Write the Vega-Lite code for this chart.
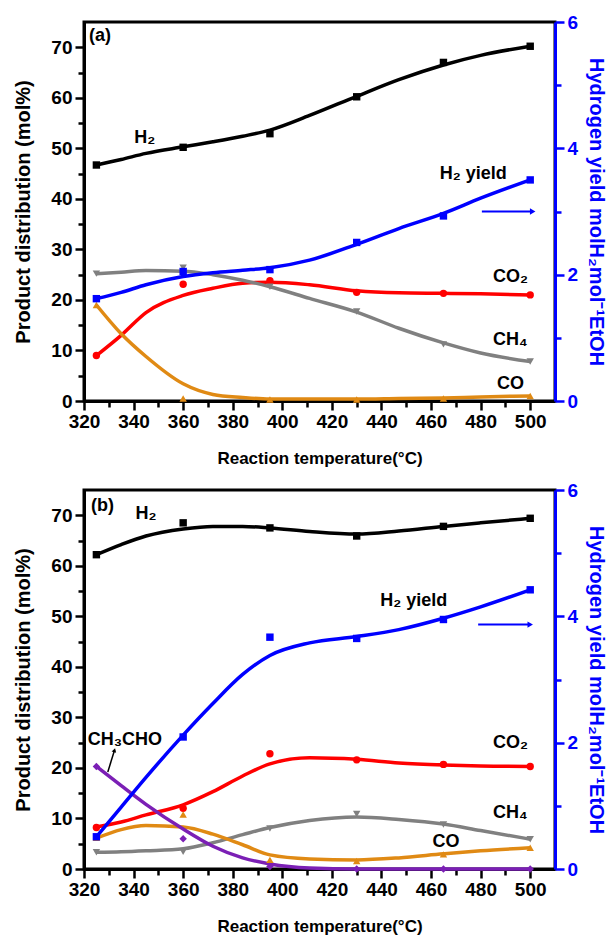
{
"$schema":"https://vega.github.io/schema/vega-lite/v6.json",
"autosize":{"type":"pad"},
"padding":{"left":12,"top":11,"right":3,"bottom":3},
"bounds":"flush",
"spacing":89,
"datasets":{
"pts":[
{"p":"a","s":"H2","T":325,"v":46.7},{"p":"a","s":"H2","T":360,"v":50.2},{"p":"a","s":"H2","T":395,"v":52.9},{"p":"a","s":"H2","T":430,"v":60.2},{"p":"a","s":"H2","T":465,"v":67.0},{"p":"a","s":"H2","T":500,"v":70.2},
{"p":"a","s":"CO2","T":325,"v":9.0},{"p":"a","s":"CO2","T":360,"v":23.1},{"p":"a","s":"CO2","T":395,"v":23.8},{"p":"a","s":"CO2","T":430,"v":21.5},{"p":"a","s":"CO2","T":465,"v":21.3},{"p":"a","s":"CO2","T":500,"v":21.0},
{"p":"a","s":"CH4","T":325,"v":25.2},{"p":"a","s":"CH4","T":360,"v":26.4},{"p":"a","s":"CH4","T":395,"v":22.6},{"p":"a","s":"CH4","T":430,"v":17.7},{"p":"a","s":"CH4","T":465,"v":11.2},{"p":"a","s":"CH4","T":500,"v":7.8},
{"p":"a","s":"CO","T":325,"v":19.0},{"p":"a","s":"CO","T":360,"v":0.5},{"p":"a","s":"CO","T":395,"v":0.3},{"p":"a","s":"CO","T":430,"v":0.3},{"p":"a","s":"CO","T":465,"v":0.5},{"p":"a","s":"CO","T":500,"v":1.0},
{"p":"b","s":"H2","T":325,"v":62.2},{"p":"b","s":"H2","T":360,"v":68.5},{"p":"b","s":"H2","T":395,"v":67.5},{"p":"b","s":"H2","T":430,"v":65.9},{"p":"b","s":"H2","T":465,"v":67.8},{"p":"b","s":"H2","T":500,"v":69.4},
{"p":"b","s":"CO2","T":325,"v":8.2},{"p":"b","s":"CO2","T":360,"v":12.0},{"p":"b","s":"CO2","T":395,"v":22.8},{"p":"b","s":"CO2","T":430,"v":21.6},{"p":"b","s":"CO2","T":465,"v":20.7},{"p":"b","s":"CO2","T":500,"v":20.3},
{"p":"b","s":"CH4","T":325,"v":3.3},{"p":"b","s":"CH4","T":360,"v":3.4},{"p":"b","s":"CH4","T":395,"v":8.0},{"p":"b","s":"CH4","T":430,"v":10.9},{"p":"b","s":"CH4","T":465,"v":8.8},{"p":"b","s":"CH4","T":500,"v":5.9},
{"p":"b","s":"CO","T":325,"v":6.2},{"p":"b","s":"CO","T":360,"v":10.8},{"p":"b","s":"CO","T":395,"v":1.8},{"p":"b","s":"CO","T":430,"v":1.6},{"p":"b","s":"CO","T":465,"v":2.9},{"p":"b","s":"CO","T":500,"v":4.2},
{"p":"b","s":"CH3CHO","T":325,"v":20.3},{"p":"b","s":"CH3CHO","T":360,"v":6.0},{"p":"b","s":"CH3CHO","T":395,"v":0.5},{"p":"b","s":"CH3CHO","T":430,"v":0.0},{"p":"b","s":"CH3CHO","T":465,"v":0.0},{"p":"b","s":"CH3CHO","T":500,"v":0.0}
],
"ypts":[
{"p":"a","T":325,"v":1.62},{"p":"a","T":360,"v":2.05},{"p":"a","T":395,"v":2.08},{"p":"a","T":430,"v":2.51},{"p":"a","T":465,"v":2.93},{"p":"a","T":500,"v":3.50},
{"p":"b","T":325,"v":0.51},{"p":"b","T":360,"v":2.09},{"p":"b","T":395,"v":3.67},{"p":"b","T":430,"v":3.65},{"p":"b","T":465,"v":3.95},{"p":"b","T":500,"v":4.42}
],
"crv":[
{"p":"a","s":"H2","T":325,"v":46.7},{"p":"a","s":"H2","T":335,"v":47.8},{"p":"a","s":"H2","T":345,"v":49.0},{"p":"a","s":"H2","T":360,"v":50.3},{"p":"a","s":"H2","T":372,"v":51.3},{"p":"a","s":"H2","T":384,"v":52.4},{"p":"a","s":"H2","T":395,"v":53.6},{"p":"a","s":"H2","T":411,"v":56.5},{"p":"a","s":"H2","T":430,"v":60.3},{"p":"a","s":"H2","T":447,"v":63.6},{"p":"a","s":"H2","T":465,"v":66.5},{"p":"a","s":"H2","T":480,"v":68.4},{"p":"a","s":"H2","T":500,"v":70.2},
{"p":"a","s":"CO2","T":325,"v":9.0},{"p":"a","s":"CO2","T":335,"v":13.0},{"p":"a","s":"CO2","T":345,"v":17.5},{"p":"a","s":"CO2","T":360,"v":20.9},{"p":"a","s":"CO2","T":372,"v":22.3},{"p":"a","s":"CO2","T":384,"v":23.3},{"p":"a","s":"CO2","T":395,"v":23.5},{"p":"a","s":"CO2","T":411,"v":23.0},{"p":"a","s":"CO2","T":430,"v":21.8},{"p":"a","s":"CO2","T":447,"v":21.4},{"p":"a","s":"CO2","T":465,"v":21.3},{"p":"a","s":"CO2","T":480,"v":21.2},{"p":"a","s":"CO2","T":500,"v":21.0},
{"p":"a","s":"CH4","T":325,"v":25.2},{"p":"a","s":"CH4","T":335,"v":25.5},{"p":"a","s":"CH4","T":345,"v":25.8},{"p":"a","s":"CH4","T":360,"v":25.7},{"p":"a","s":"CH4","T":372,"v":25.0},{"p":"a","s":"CH4","T":384,"v":23.9},{"p":"a","s":"CH4","T":395,"v":22.6},{"p":"a","s":"CH4","T":411,"v":20.3},{"p":"a","s":"CH4","T":430,"v":17.6},{"p":"a","s":"CH4","T":447,"v":14.4},{"p":"a","s":"CH4","T":465,"v":11.5},{"p":"a","s":"CH4","T":480,"v":9.5},{"p":"a","s":"CH4","T":500,"v":7.8},
{"p":"a","s":"CO","T":325,"v":19.0},{"p":"a","s":"CO","T":335,"v":13.3},{"p":"a","s":"CO","T":345,"v":8.8},{"p":"a","s":"CO","T":360,"v":3.4},{"p":"a","s":"CO","T":372,"v":1.3},{"p":"a","s":"CO","T":384,"v":0.7},{"p":"a","s":"CO","T":395,"v":0.4},{"p":"a","s":"CO","T":411,"v":0.4},{"p":"a","s":"CO","T":430,"v":0.4},{"p":"a","s":"CO","T":447,"v":0.5},{"p":"a","s":"CO","T":465,"v":0.6},{"p":"a","s":"CO","T":480,"v":0.8},{"p":"a","s":"CO","T":500,"v":1.0},
{"p":"b","s":"H2","T":325,"v":62.2},{"p":"b","s":"H2","T":335,"v":64.2},{"p":"b","s":"H2","T":345,"v":65.9},{"p":"b","s":"H2","T":360,"v":67.3},{"p":"b","s":"H2","T":372,"v":67.8},{"p":"b","s":"H2","T":384,"v":67.8},{"p":"b","s":"H2","T":395,"v":67.5},{"p":"b","s":"H2","T":411,"v":66.8},{"p":"b","s":"H2","T":430,"v":66.3},{"p":"b","s":"H2","T":447,"v":66.9},{"p":"b","s":"H2","T":465,"v":67.8},{"p":"b","s":"H2","T":480,"v":68.5},{"p":"b","s":"H2","T":500,"v":69.4},
{"p":"b","s":"CO2","T":325,"v":8.3},{"p":"b","s":"CO2","T":335,"v":9.3},{"p":"b","s":"CO2","T":345,"v":10.7},{"p":"b","s":"CO2","T":360,"v":12.7},{"p":"b","s":"CO2","T":372,"v":15.3},{"p":"b","s":"CO2","T":384,"v":18.4},{"p":"b","s":"CO2","T":395,"v":20.8},{"p":"b","s":"CO2","T":411,"v":22.0},{"p":"b","s":"CO2","T":430,"v":21.7},{"p":"b","s":"CO2","T":447,"v":21.0},{"p":"b","s":"CO2","T":465,"v":20.6},{"p":"b","s":"CO2","T":480,"v":20.4},{"p":"b","s":"CO2","T":500,"v":20.3},
{"p":"b","s":"CH4","T":325,"v":3.3},{"p":"b","s":"CH4","T":335,"v":3.4},{"p":"b","s":"CH4","T":345,"v":3.6},{"p":"b","s":"CH4","T":360,"v":4.0},{"p":"b","s":"CH4","T":372,"v":5.2},{"p":"b","s":"CH4","T":384,"v":6.8},{"p":"b","s":"CH4","T":395,"v":8.2},{"p":"b","s":"CH4","T":411,"v":9.6},{"p":"b","s":"CH4","T":430,"v":10.3},{"p":"b","s":"CH4","T":447,"v":9.8},{"p":"b","s":"CH4","T":465,"v":8.9},{"p":"b","s":"CH4","T":480,"v":7.6},{"p":"b","s":"CH4","T":500,"v":5.9},
{"p":"b","s":"CO","T":325,"v":6.1},{"p":"b","s":"CO","T":335,"v":7.8},{"p":"b","s":"CO","T":345,"v":8.6},{"p":"b","s":"CO","T":360,"v":8.3},{"p":"b","s":"CO","T":372,"v":6.9},{"p":"b","s":"CO","T":384,"v":4.8},{"p":"b","s":"CO","T":395,"v":2.8},{"p":"b","s":"CO","T":411,"v":2.0},{"p":"b","s":"CO","T":430,"v":1.8},{"p":"b","s":"CO","T":447,"v":2.2},{"p":"b","s":"CO","T":465,"v":3.0},{"p":"b","s":"CO","T":480,"v":3.6},{"p":"b","s":"CO","T":500,"v":4.2},
{"p":"b","s":"CH3CHO","T":325,"v":20.3},{"p":"b","s":"CH3CHO","T":335,"v":16.5},{"p":"b","s":"CH3CHO","T":345,"v":12.8},{"p":"b","s":"CH3CHO","T":360,"v":7.9},{"p":"b","s":"CH3CHO","T":372,"v":4.5},{"p":"b","s":"CH3CHO","T":384,"v":2.2},{"p":"b","s":"CH3CHO","T":395,"v":1.0},{"p":"b","s":"CH3CHO","T":411,"v":0.2},{"p":"b","s":"CH3CHO","T":430,"v":0.0},{"p":"b","s":"CH3CHO","T":465,"v":0.0},{"p":"b","s":"CH3CHO","T":500,"v":0.0}
],
"ycrv":[
{"p":"a","T":325,"v":1.62},{"p":"a","T":335,"v":1.72},{"p":"a","T":345,"v":1.84},{"p":"a","T":360,"v":1.97},{"p":"a","T":372,"v":2.03},{"p":"a","T":384,"v":2.07},{"p":"a","T":395,"v":2.11},{"p":"a","T":411,"v":2.23},{"p":"a","T":430,"v":2.48},{"p":"a","T":447,"v":2.73},{"p":"a","T":465,"v":2.97},{"p":"a","T":480,"v":3.21},{"p":"a","T":500,"v":3.50},
{"p":"b","T":325,"v":0.51},{"p":"b","T":335,"v":0.98},{"p":"b","T":345,"v":1.45},{"p":"b","T":360,"v":2.12},{"p":"b","T":372,"v":2.62},{"p":"b","T":384,"v":3.08},{"p":"b","T":395,"v":3.38},{"p":"b","T":411,"v":3.58},{"p":"b","T":430,"v":3.68},{"p":"b","T":447,"v":3.79},{"p":"b","T":465,"v":3.97},{"p":"b","T":480,"v":4.15},{"p":"b","T":500,"v":4.42}
],
"lbl":[
{"p":"a","t":"(a)","T":326.5,"v":72.2},{"p":"a","t":"H₂","T":344.5,"v":52.1},{"p":"a","t":"H₂ yield","T":477,"v":45},{"p":"a","t":"CO₂","T":492,"v":24.5},{"p":"a","t":"CH₄","T":492,"v":12},{"p":"a","t":"CO","T":492,"v":3.3},
{"p":"b","t":"(b)","T":327.5,"v":71.8},{"p":"b","t":"H₂","T":345,"v":70.2},{"p":"b","t":"H₂ yield","T":453,"v":53},{"p":"b","t":"CO₂","T":492,"v":25},{"p":"b","t":"CH₄","T":492,"v":11},{"p":"b","t":"CO","T":466,"v":5.3},{"p":"b","t":"CH₃CHO","T":336.5,"v":25.5}
],
"yarw":[{"p":"a","T":480.5,"T2":501,"v":3.0},{"p":"b","T":479,"T2":500,"v":3.87}],
"karw":[{"p":"b","T":329.6,"T2":332.3,"v":19.2,"v2":23.5}]
},
"vconcat":[
{"width":471,"height":379,
 "layer":[
  {"encoding":{
     "x":{"field":"T","type":"quantitative","scale":{"domain":[320,510],"nice":false,"zero":false},"axis":{"title":"Reaction temperature(°C)","values":[320,330,340,350,360,370,380,390,400,410,420,430,440,450,460,470,480,490,500],"labelExpr":"datum.value % 20 === 0 ? datum.label : ''","tickSize":{"condition":{"test":"datum.value % 20 === 0","value":9},"value":6},"labelPadding":2,"titlePadding":19,"titleFontSize":17}},
     "y":{"field":"v","type":"quantitative","scale":{"domain":[0,75],"nice":false},"axis":{"orient":"left","title":"Product distribution (mol%)","values":[0,5,10,15,20,25,30,35,40,45,50,55,60,65,70],"labelExpr":"datum.value % 10 === 0 ? datum.label : ''","tickSize":{"condition":{"test":"datum.value % 10 === 0","value":9},"value":6},"labelPadding":3,"titlePadding":17}}},
   "layer":[
    {"data":{"name":"crv"},"transform":[{"filter":"datum.p === 'a'"}],"mark":{"type":"line","interpolate":"monotone","strokeWidth":3.5},
     "encoding":{"color":{"field":"s","type":"nominal","scale":{"domain":["H2","CO2","CH4","CO","CH3CHO"],"range":["#000000","#ff0000","#808080","#e08a14","#7b1fb5"]},"legend":null}}},
    {"data":{"name":"pts"},"transform":[{"filter":"datum.p === 'a'"}],"mark":{"type":"point","filled":true,"opacity":1,"size":55},
     "encoding":{"color":{"field":"s","type":"nominal","scale":{"domain":["H2","CO2","CH4","CO","CH3CHO"],"range":["#000000","#ff0000","#808080","#e08a14","#7b1fb5"]},"legend":null},
                 "shape":{"field":"s","type":"nominal","scale":{"domain":["H2","CO2","CH4","CO","CH3CHO"],"range":["square","circle","triangle-down","triangle-up","diamond"]},"legend":null}}},
    {"data":{"name":"lbl"},"transform":[{"filter":"datum.p === 'a'"}],"mark":{"type":"text","fontSize":18,"fontWeight":"bold","color":"black"},
     "encoding":{"text":{"field":"t"}}}
   ]},
  {"encoding":{
     "x":{"field":"T","type":"quantitative","scale":{"domain":[320,510],"nice":false,"zero":false},"axis":{"title":"Reaction temperature(°C)","values":[320,330,340,350,360,370,380,390,400,410,420,430,440,450,460,470,480,490,500],"labelExpr":"datum.value % 20 === 0 ? datum.label : ''","tickSize":{"condition":{"test":"datum.value % 20 === 0","value":9},"value":6},"labelPadding":2,"titlePadding":19,"titleFontSize":17}},
     "y":{"field":"v","type":"quantitative","scale":{"domain":[0,6],"nice":false},"axis":{"orient":"right","title":"Hydrogen yield molH₂mol⁻¹EtOH","values":[0,1,2,3,4,5,6],"labelExpr":"datum.value % 2 === 0 ? datum.label : ''","tickSize":{"condition":{"test":"datum.value % 2 === 0","value":9},"value":6},"labelPadding":3,"titlePadding":8,"domainColor":"#0000ff","tickColor":"#0000ff","labelColor":"#0000ff","titleColor":"#0000ff"}}},
   "layer":[
    {"data":{"name":"ycrv"},"transform":[{"filter":"datum.p === 'a'"}],"mark":{"type":"line","interpolate":"monotone","strokeWidth":3.5,"color":"#0000ff"}},
    {"data":{"name":"ypts"},"transform":[{"filter":"datum.p === 'a'"}],"mark":{"type":"point","shape":"square","filled":true,"opacity":1,"size":55,"color":"#0000ff"}},
    {"data":{"name":"yarw"},"transform":[{"filter":"datum.p === 'a'"}],"mark":{"type":"rule","strokeWidth":2,"color":"#0000ff"},"encoding":{"x2":{"field":"T2"}}},
    {"data":{"name":"yarw"},"transform":[{"filter":"datum.p === 'a'"}],"mark":{"type":"point","shape":"triangle-right","filled":true,"opacity":1,"size":40,"color":"#0000ff"},"encoding":{"x":{"field":"T2","type":"quantitative"}}}
   ]}
 ],
 "resolve":{"scale":{"y":"independent"}}
},
{"width":471,"height":379,
 "layer":[
  {"encoding":{
     "x":{"field":"T","type":"quantitative","scale":{"domain":[320,510],"nice":false,"zero":false},"axis":{"title":"Reaction temperature(°C)","values":[320,330,340,350,360,370,380,390,400,410,420,430,440,450,460,470,480,490,500],"labelExpr":"datum.value % 20 === 0 ? datum.label : ''","tickSize":{"condition":{"test":"datum.value % 20 === 0","value":9},"value":6},"labelPadding":2,"titlePadding":19,"titleFontSize":17}},
     "y":{"field":"v","type":"quantitative","scale":{"domain":[0,75],"nice":false},"axis":{"orient":"left","title":"Product distribution (mol%)","values":[0,5,10,15,20,25,30,35,40,45,50,55,60,65,70],"labelExpr":"datum.value % 10 === 0 ? datum.label : ''","tickSize":{"condition":{"test":"datum.value % 10 === 0","value":9},"value":6},"labelPadding":3,"titlePadding":17}}},
   "layer":[
    {"data":{"name":"crv"},"transform":[{"filter":"datum.p === 'b'"}],"mark":{"type":"line","interpolate":"monotone","strokeWidth":3.5},
     "encoding":{"color":{"field":"s","type":"nominal","scale":{"domain":["H2","CO2","CH4","CO","CH3CHO"],"range":["#000000","#ff0000","#808080","#e08a14","#7b1fb5"]},"legend":null}}},
    {"data":{"name":"pts"},"transform":[{"filter":"datum.p === 'b'"}],"mark":{"type":"point","filled":true,"opacity":1,"size":55},
     "encoding":{"color":{"field":"s","type":"nominal","scale":{"domain":["H2","CO2","CH4","CO","CH3CHO"],"range":["#000000","#ff0000","#808080","#e08a14","#7b1fb5"]},"legend":null},
                 "shape":{"field":"s","type":"nominal","scale":{"domain":["H2","CO2","CH4","CO","CH3CHO"],"range":["square","circle","triangle-down","triangle-up","diamond"]},"legend":null}}},
    {"data":{"name":"lbl"},"transform":[{"filter":"datum.p === 'b'"}],"mark":{"type":"text","fontSize":18,"fontWeight":"bold","color":"black"},
     "encoding":{"text":{"field":"t"}}},
    {"data":{"name":"karw"},"mark":{"type":"rule","strokeWidth":1.5,"color":"black"},"encoding":{"x2":{"field":"T2"},"y2":{"field":"v2"}}},
    {"data":{"name":"karw"},"mark":{"type":"point","shape":"triangle-up","filled":true,"opacity":1,"size":22,"color":"black","angle":17},"encoding":{"x":{"field":"T2","type":"quantitative"},"y":{"field":"v2","type":"quantitative"}}}
   ]},
  {"encoding":{
     "x":{"field":"T","type":"quantitative","scale":{"domain":[320,510],"nice":false,"zero":false},"axis":{"title":"Reaction temperature(°C)","values":[320,330,340,350,360,370,380,390,400,410,420,430,440,450,460,470,480,490,500],"labelExpr":"datum.value % 20 === 0 ? datum.label : ''","tickSize":{"condition":{"test":"datum.value % 20 === 0","value":9},"value":6},"labelPadding":2,"titlePadding":19,"titleFontSize":17}},
     "y":{"field":"v","type":"quantitative","scale":{"domain":[0,6],"nice":false},"axis":{"orient":"right","title":"Hydrogen yield molH₂mol⁻¹EtOH","values":[0,1,2,3,4,5,6],"labelExpr":"datum.value % 2 === 0 ? datum.label : ''","tickSize":{"condition":{"test":"datum.value % 2 === 0","value":9},"value":6},"labelPadding":3,"titlePadding":8,"domainColor":"#0000ff","tickColor":"#0000ff","labelColor":"#0000ff","titleColor":"#0000ff"}}},
   "layer":[
    {"data":{"name":"ycrv"},"transform":[{"filter":"datum.p === 'b'"}],"mark":{"type":"line","interpolate":"monotone","strokeWidth":3.5,"color":"#0000ff"}},
    {"data":{"name":"ypts"},"transform":[{"filter":"datum.p === 'b'"}],"mark":{"type":"point","shape":"square","filled":true,"opacity":1,"size":55,"color":"#0000ff"}},
    {"data":{"name":"yarw"},"transform":[{"filter":"datum.p === 'b'"}],"mark":{"type":"rule","strokeWidth":2,"color":"#0000ff"},"encoding":{"x2":{"field":"T2"}}},
    {"data":{"name":"yarw"},"transform":[{"filter":"datum.p === 'b'"}],"mark":{"type":"point","shape":"triangle-right","filled":true,"opacity":1,"size":40,"color":"#0000ff"},"encoding":{"x":{"field":"T2","type":"quantitative"}}}
   ]}
 ],
 "resolve":{"scale":{"y":"independent"}}
}
],
"config":{
 "font":"Liberation Sans",
 "view":{"stroke":"black","strokeWidth":3},
 "axis":{"grid":false,"zindex":1,"domainWidth":3,"domainColor":"black","tickWidth":2.5,"tickColor":"black","labelColor":"black","titleColor":"black","labelFont":"Liberation Sans","titleFont":"Liberation Sans","labelFontWeight":"bold","titleFontWeight":"bold","labelFontSize":19,"titleFontSize":20,"labelFlush":false,"labelOverlap":false}
}
}
